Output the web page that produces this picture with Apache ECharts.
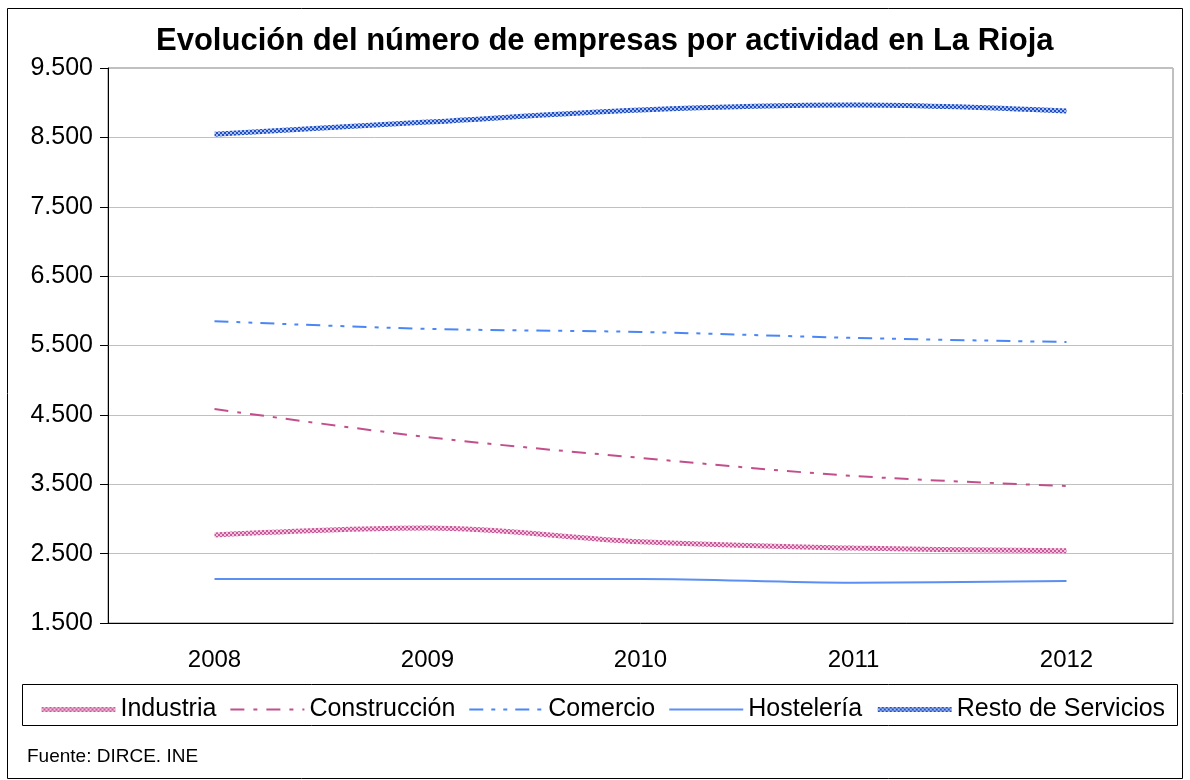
<!DOCTYPE html>
<html>
<head>
<meta charset="utf-8">
<script src="https://cdn.jsdelivr.net/npm/echarts@6/dist/echarts.min.js"></script>
<style>
  html, body { margin: 0; padding: 0; background: #fff; }
  #chart { width: 1190px; height: 780px; }
</style>
</head>
<body>
<div id="chart"></div>
<script>
const years = ['2008', '2009', '2010', '2011', '2012'];
const industria = [2770, 2870, 2670, 2580, 2540];
const construccion = [4585, 4180, 3880, 3620, 3475];
const comercio = [5850, 5740, 5695, 5610, 5550];
const hosteleria = [2135, 2135, 2135, 2080, 2105];
const restoServicios = [8545, 8720, 8895, 8965, 8880];

// checkered pattern like the Excel textured lines
function checker(c1, c2) {
    let cv = document.createElement('canvas');
    cv.width = 4; cv.height = 4;
    let ctx = cv.getContext('2d');
    ctx.fillStyle = c1;
    ctx.fillRect(0, 0, 4, 4);
    ctx.fillStyle = c2;
    ctx.fillRect(0, 0, 2, 2);
    ctx.fillRect(2, 2, 2, 2);
    return { image: cv, repeat: 'repeat' };
}

let dom = document.getElementById('chart');
let chart = echarts.init(dom);

let fmt = function (v) {
    return String(v).replace(/\B(?=(\d{3})+(?!\d))/g, '.');
};

let pinkTex = checker('#f3c4dd', '#c8589a');
let blueTex = checker('#a9bff0', '#1f4fc4');

let option = {
    animation: false,
    title: {
        text: 'Evolución del número de empresas por actividad en La Rioja',
        left: 151,
        top: 21,
        textStyle: {
            fontFamily: 'Liberation Sans',
            fontSize: 31,
            fontWeight: 'bold',
            color: '#000'
        }
    },
    legend: {
        left: 34,
        top: 692,
        itemWidth: 74,
        itemHeight: 14,
        itemGap: 13,
        itemStyle: { opacity: 0 },
        lineStyle: { width: 'inherit' },
        textStyle: {
            fontFamily: 'Liberation Sans',
            fontSize: 25,
            color: '#000'
        },
        data: ['Industria', 'Construcción', 'Comercio', 'Hostelería', 'Resto de Servicios']
    },
    grid: {
        left: 108,
        right: 17,
        top: 68,
        bottom: 157,
        show: true,
        borderColor: '#808080',
        borderWidth: 1
    },
    xAxis: {
        type: 'category',
        data: years,
        boundaryGap: true,
        axisLine: { lineStyle: { color: '#000', width: 1 } },
        axisTick: { length: 9, lineStyle: { color: '#000' } },
        axisLabel: {
            margin: 25,
            fontFamily: 'Liberation Sans',
            fontSize: 24,
            color: '#000'
        }
    },
    yAxis: {
        type: 'value',
        min: 1500,
        max: 9500,
        interval: 1000,
        axisLine: { show: true, lineStyle: { color: '#000', width: 1 } },
        axisTick: { show: true, length: 8, lineStyle: { color: '#000' } },
        axisLabel: {
            margin: 15,
            fontFamily: 'Liberation Sans',
            fontSize: 25,
            color: '#000',
            formatter: fmt
        },
        splitLine: { lineStyle: { color: '#c0c0c0', width: 1 } }
    },
    series: [
        {
            name: 'Industria',
            type: 'line',
            smooth: 0.35,
            symbol: 'none',
            data: industria,
            itemStyle: { color: pinkTex },
            lineStyle: { width: 5, color: pinkTex }
        },
        {
            name: 'Construcción',
            type: 'line',
            smooth: 0.35,
            symbol: 'none',
            data: construccion,
            itemStyle: { color: '#c24f8c' },
            lineStyle: { width: 2, color: '#c24f8c', type: [14, 9, 4, 9] }
        },
        {
            name: 'Comercio',
            type: 'line',
            smooth: 0.35,
            symbol: 'none',
            data: comercio,
            itemStyle: { color: '#4a86f5' },
            lineStyle: { width: 2, color: '#4a86f5', type: [14, 8, 4, 8, 4, 8] }
        },
        {
            name: 'Hostelería',
            type: 'line',
            smooth: 0.35,
            symbol: 'none',
            data: hosteleria,
            itemStyle: { color: '#5b8ff2' },
            lineStyle: { width: 2, color: '#5b8ff2' }
        },
        {
            name: 'Resto de Servicios',
            type: 'line',
            smooth: 0.35,
            symbol: 'none',
            data: restoServicios,
            itemStyle: { color: blueTex },
            lineStyle: { width: 5, color: blueTex }
        }
    ],
    graphic: [
        {
            type: 'rect',
            shape: { x: 7.5, y: 8.5, width: 1175, height: 770 },
            style: { fill: 'none', stroke: '#000', lineWidth: 1 },
            silent: true
        },
        {
            type: 'rect',
            shape: { x: 22.5, y: 684.5, width: 1155, height: 41 },
            style: { fill: 'none', stroke: '#000', lineWidth: 1 },
            silent: true
        },
        {
            type: 'text',
            left: 27,
            top: 747,
            style: {
                text: 'Fuente: DIRCE. INE',
                fontFamily: 'Liberation Sans',
                fontSize: 19,
                fill: '#000'
            }
        }
    ]
};

chart.setOption(option);
</script>
</body>
</html>
